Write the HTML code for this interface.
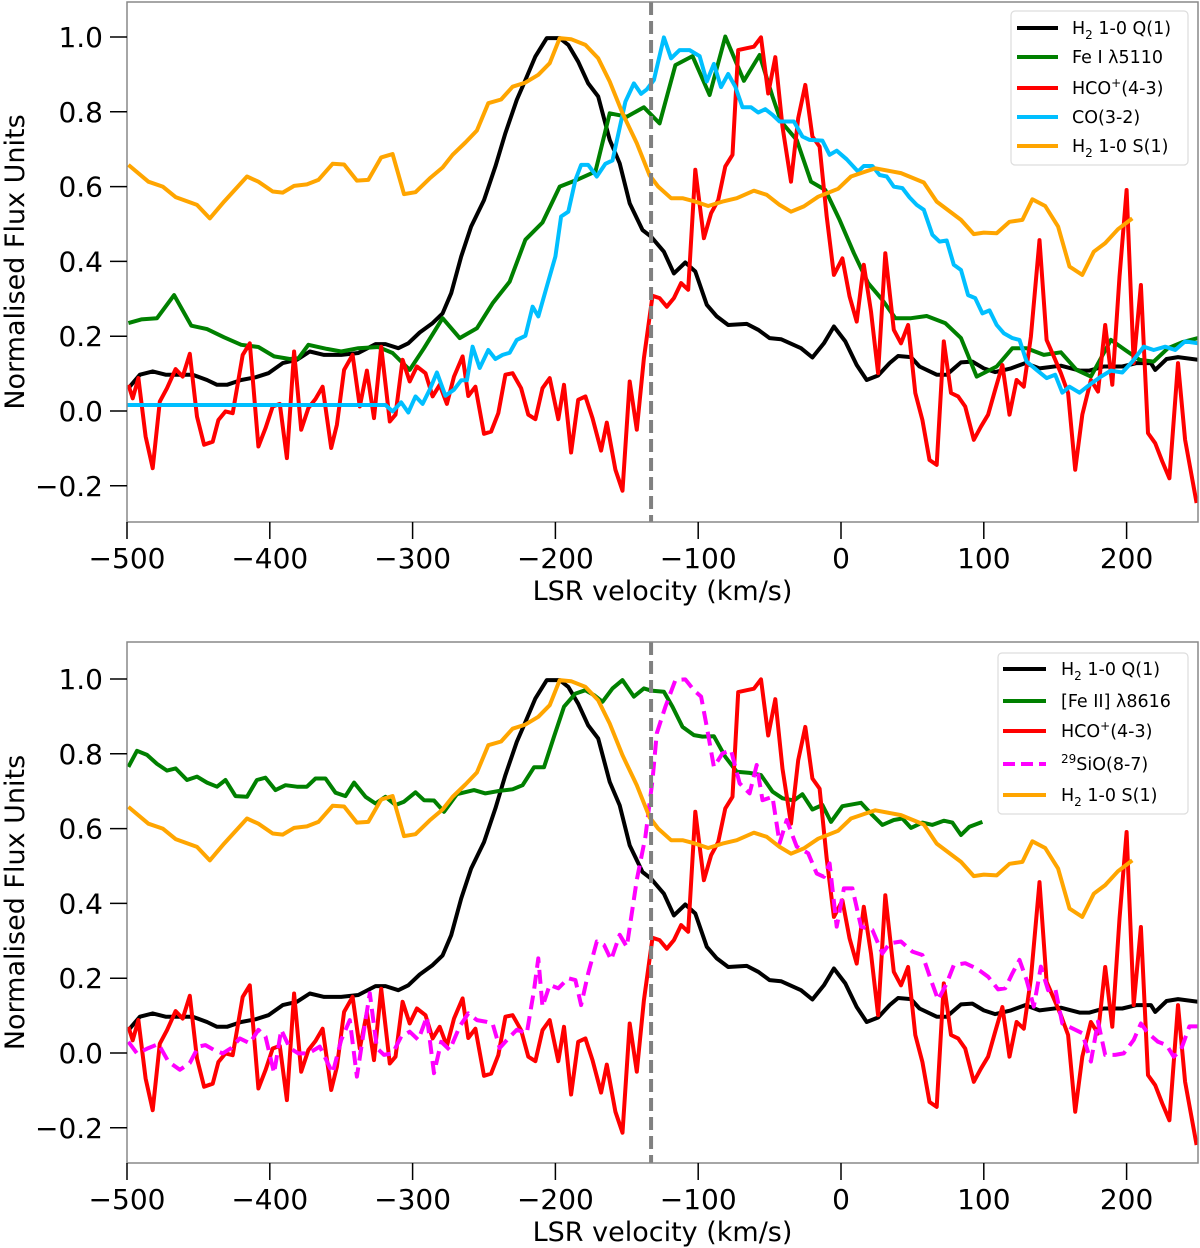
<!DOCTYPE html>
<html><head><meta charset="utf-8"><style>
html,body{margin:0;padding:0;background:#fff;}
svg{display:block;font-family:"DejaVu Sans","Liberation Sans",sans-serif;}
</style></head><body>
<svg id="fig" width="1200" height="1248" viewBox="0 0 1200 1248" xmlns="http://www.w3.org/2000/svg"></svg>
<script>
// ---------- data (velocity km/s, normalised flux) ----------
const h2q1V=[-499,-491,-482,-473,-463,-454,-444,-437,-430,-420,-410,-401,-391,-381,-372,-362,-350,-338,-326,-319,-310,-303,-295,-286,-279,-273,-266,-259,-250,-242,-235,-227,-221,-214,-206,-197,-191,-184,-177,-170,-162,-155,-148,-139,-133,-124,-117,-109,-102,-94,-87,-79,-66,-58,-50,-42,-28,-20,-12,-5,3,11,18,26,34,40,49,55,67,74,84,92,100,108,119,129,139,154,167,174,184,197,207,217,220,228,236,250];
const h2q1Y=[0.061,0.097,0.106,0.097,0.097,0.097,0.083,0.070,0.070,0.083,0.090,0.101,0.128,0.137,0.159,0.150,0.150,0.155,0.179,0.179,0.168,0.181,0.210,0.235,0.261,0.315,0.413,0.493,0.564,0.654,0.743,0.832,0.885,0.948,0.997,0.997,0.979,0.934,0.876,0.841,0.725,0.662,0.555,0.484,0.466,0.426,0.368,0.397,0.373,0.284,0.253,0.230,0.233,0.217,0.195,0.192,0.168,0.143,0.181,0.226,0.186,0.123,0.083,0.095,0.128,0.147,0.144,0.119,0.097,0.097,0.130,0.132,0.114,0.104,0.114,0.128,0.114,0.121,0.108,0.108,0.119,0.119,0.128,0.128,0.110,0.139,0.144,0.137];

const h2s1V=[-499,-485,-475,-466,-451,-442,-432,-416,-408,-398,-391,-383,-374,-366,-356,-348,-339,-331,-322,-314,-306,-298,-288,-279,-272,-263,-255,-247,-238,-230,-221,-212,-204,-197,-189,-179,-170,-162,-153,-143,-134,-128,-119,-111,-102,-93,-83,-73,-61,-52,-43,-35,-26,-16,-2,7,17,24,42,58,67,84,93,100,109,118,127,134,143,152,160,169,177,185,194,204];
const h2s1Y=[0.658,0.613,0.600,0.572,0.551,0.515,0.560,0.627,0.613,0.587,0.584,0.602,0.606,0.618,0.661,0.659,0.616,0.618,0.678,0.687,0.580,0.585,0.622,0.651,0.685,0.718,0.750,0.823,0.833,0.867,0.878,0.899,0.930,0.997,0.994,0.979,0.943,0.881,0.796,0.716,0.630,0.600,0.569,0.569,0.560,0.548,0.560,0.569,0.589,0.578,0.551,0.533,0.547,0.573,0.594,0.627,0.640,0.649,0.636,0.611,0.560,0.511,0.473,0.477,0.475,0.506,0.511,0.566,0.548,0.493,0.386,0.364,0.426,0.449,0.486,0.515];

const hcoV=[-499,-496,-492,-487,-482,-477,-472,-466,-461,-456,-451,-446,-440,-436,-431,-426,-419,-414,-408,-403,-398,-393,-388,-383,-378,-373,-368,-363,-357,-353,-348,-342,-337,-332,-327,-322,-316,-312,-307,-302,-297,-291,-286,-281,-276,-271,-265,-261,-256,-250,-245,-240,-235,-230,-224,-219,-214,-209,-204,-198,-194,-189,-184,-179,-174,-168,-164,-158,-153,-148,-143,-138,-132,-127,-122,-117,-112,-107,-102,-96,-91,-86,-81,-76,-72,-66,-61,-56,-51,-46,-41,-35,-30,-25,-20,-15,-10,-5,1,6,11,16,21,26,31,37,42,47,52,57,62,67,72,77,82,87,93,98,103,108,113,118,123,128,133,139,144,149,154,159,164,169,175,180,185,190,195,200,205,210,215,220,225,230,236,241,249];
const hcoY=[0.070,0.034,0.088,-0.068,-0.153,0.025,0.061,0.112,0.092,0.153,-0.015,-0.090,-0.082,-0.024,-0.001,-0.006,0.150,0.181,-0.095,-0.046,0.012,0.019,-0.126,0.159,-0.050,0.008,0.032,0.065,-0.099,-0.037,0.110,0.150,0.012,0.108,-0.019,0.172,-0.028,-0.010,0.137,0.079,0.119,0.101,0.039,0.070,0.019,0.092,0.146,0.040,0.065,-0.061,-0.055,-0.006,0.097,0.101,0.061,-0.010,-0.022,0.061,0.088,-0.022,0.070,-0.111,0.030,0.039,-0.019,-0.106,-0.031,-0.157,-0.213,0.079,-0.050,0.141,0.308,0.302,0.279,0.302,0.342,0.324,0.645,0.462,0.529,0.564,0.654,0.685,0.965,0.970,0.974,0.999,0.849,0.946,0.760,0.613,0.783,0.872,0.734,0.707,0.520,0.364,0.408,0.306,0.239,0.391,0.266,0.101,0.422,0.217,0.181,0.230,0.048,-0.024,-0.131,-0.144,0.186,0.048,0.039,0.012,-0.077,-0.042,-0.010,0.057,0.123,-0.010,0.083,0.065,0.199,0.457,0.190,0.146,0.101,0.048,-0.157,-0.010,0.083,0.052,0.230,0.070,0.359,0.591,0.128,0.337,-0.059,-0.086,-0.135,-0.180,0.128,-0.077,-0.246];

const fe1V=[-499,-490,-479,-467,-455,-444,-432,-420,-408,-397,-386,-380,-373,-360,-350,-338,-324,-314,-302,-292,-279,-267,-255,-244,-232,-221,-209,-197,-185,-172,-162,-150,-138,-127,-116,-104,-92,-81,-68,-57,-48,-42,-31,-21,-11,-1,9,19,29,38,49,60,73,84,95,109,120,130,142,154,165,175,189,199,209,219,229,239,250];
const fe1Y=[0.235,0.245,0.248,0.310,0.228,0.219,0.197,0.177,0.171,0.146,0.139,0.141,0.177,0.166,0.159,0.168,0.171,0.155,0.110,0.168,0.248,0.195,0.221,0.288,0.346,0.458,0.504,0.600,0.618,0.640,0.796,0.787,0.812,0.769,0.925,0.949,0.845,1.001,0.883,0.952,0.841,0.774,0.725,0.613,0.591,0.511,0.422,0.342,0.297,0.248,0.248,0.254,0.235,0.195,0.092,0.119,0.168,0.168,0.150,0.157,0.110,0.092,0.190,0.163,0.137,0.132,0.168,0.184,0.195];

const coV=[-500,-319,-314,-308,-303,-298,-293,-288,-283,-277,-271,-266,-262,-258,-253,-247,-242,-237,-232,-227,-221,-216,-212,-206,-200,-196,-191,-186,-182,-177,-171,-165,-160,-151,-145,-140,-136,-131,-124,-119,-113,-106,-99,-94,-89,-84,-79,-74,-69,-63,-58,-53,-48,-43,-33,-27,-22,-13,-8,-3,4,12,16,22,27,32,37,43,48,53,58,64,69,74,79,84,89,94,99,104,109,114,120,125,130,137,144,150,155,160,167,174,182,189,197,204,212,219,227,234,241,250];
const coY=[0.016,0.016,-0.001,0.023,-0.004,0.039,0.019,0.057,0.103,0.041,0.057,0.082,0.082,0.172,0.115,0.163,0.139,0.150,0.156,0.190,0.201,0.279,0.253,0.333,0.413,0.520,0.533,0.618,0.658,0.658,0.627,0.661,0.670,0.827,0.876,0.848,0.860,0.885,0.999,0.943,0.965,0.965,0.949,0.881,0.928,0.866,0.901,0.867,0.812,0.812,0.798,0.807,0.792,0.774,0.774,0.734,0.725,0.723,0.685,0.696,0.673,0.640,0.655,0.655,0.631,0.627,0.600,0.596,0.571,0.551,0.538,0.471,0.453,0.456,0.391,0.377,0.310,0.302,0.261,0.269,0.230,0.208,0.195,0.190,0.132,0.110,0.088,0.097,0.049,0.065,0.049,0.070,0.092,0.108,0.103,0.132,0.172,0.163,0.172,0.163,0.186,0.181];

const fe2V=[-499,-493,-486,-479,-472,-466,-458,-451,-444,-437,-431,-424,-416,-409,-403,-396,-389,-381,-374,-368,-361,-354,-347,-341,-333,-326,-319,-312,-306,-298,-292,-285,-278,-269,-257,-249,-239,-230,-223,-215,-208,-201,-194,-186,-179,-173,-167,-160,-153,-145,-138,-133,-124,-118,-111,-103,-97,-89,-81,-73,-64,-56,-48,-41,-33,-27,-20,-13,-7,1,14,22,29,37,43,49,57,64,72,78,84,90,99];
const fe2Y=[0.765,0.808,0.797,0.773,0.755,0.761,0.730,0.739,0.723,0.712,0.730,0.687,0.685,0.730,0.736,0.703,0.716,0.712,0.712,0.734,0.734,0.696,0.687,0.723,0.685,0.667,0.685,0.663,0.672,0.697,0.676,0.675,0.645,0.692,0.703,0.694,0.701,0.705,0.716,0.764,0.764,0.846,0.926,0.961,0.970,0.957,0.939,0.975,0.997,0.953,0.975,0.969,0.966,0.926,0.872,0.850,0.846,0.847,0.792,0.752,0.749,0.743,0.699,0.681,0.675,0.692,0.651,0.663,0.618,0.660,0.669,0.636,0.610,0.623,0.627,0.602,0.616,0.610,0.621,0.616,0.583,0.605,0.618];

const sioV=[-499,-493,-485,-478,-471,-463,-456,-450,-445,-439,-433,-427,-421,-414,-408,-403,-397,-392,-386,-380,-373,-365,-356,-350,-344,-339,-334,-330,-325,-320,-314,-308,-302,-296,-290,-285,-280,-274,-267,-261,-255,-249,-244,-239,-233,-227,-220,-215,-212,-209,-204,-198,-191,-186,-182,-177,-171,-166,-161,-155,-150,-143,-137,-132,-129,-123,-116,-109,-103,-98,-94,-89,-83,-77,-71,-64,-59,-55,-48,-43,-38,-31,-23,-17,-12,-8,-3,2,8,14,22,29,34,42,50,57,63,68,74,79,87,95,103,110,115,120,125,130,135,140,145,150,155,162,169,175,180,185,192,198,205,210,215,222,228,233,238,244,250];
const sioY=[0.030,-0.001,0.013,0.024,-0.023,-0.045,-0.027,0.017,0.021,0.008,-0.001,0.013,0.039,0.026,0.062,0.044,-0.054,0.062,0.013,-0.001,-0.001,0.017,-0.054,0.035,0.088,-0.063,0.062,0.160,0.013,-0.005,-0.001,0.044,0.057,0.035,0.097,-0.054,0.030,0.008,0.071,0.106,0.088,0.084,0.079,0.013,0.039,0.062,0.053,0.168,0.253,0.124,0.182,0.173,0.200,0.195,0.128,0.213,0.298,0.289,0.249,0.316,0.284,0.463,0.578,0.730,0.855,0.926,0.997,0.999,0.970,0.953,0.872,0.765,0.801,0.810,0.721,0.694,0.770,0.676,0.685,0.561,0.623,0.552,0.534,0.480,0.471,0.507,0.338,0.440,0.440,0.338,0.329,0.266,0.293,0.298,0.271,0.262,0.195,0.142,0.186,0.235,0.240,0.226,0.204,0.170,0.173,0.213,0.249,0.195,0.124,0.231,0.168,0.173,0.079,0.066,0.053,-0.023,0.084,-0.005,-0.005,-0.001,0.035,0.079,0.053,0.030,0.021,-0.010,0.008,0.071,0.071];

const xTicks=[-500,-400,-300,-200,-100,0,100,200];
const xTickLabels=["\u2212500","\u2212400","\u2212300","\u2212200","\u2212100","0","100","200"];
const yTicks=[-0.2,0,0.2,0.4,0.6,0.8,1.0];
const yTickLabels=["\u22120.2","0.0","0.2","0.4","0.6","0.8","1.0"];
const refVelocity=-133;

// ---------- drawing ----------
const NS="http://www.w3.org/2000/svg";
const fig=document.getElementById('fig');
function mk(tag,attrs,parent){const e=document.createElementNS(NS,tag);for(const k in attrs)e.setAttribute(k,attrs[k]);(parent||fig).appendChild(e);return e;}

function panel(cfg){
  const L=127,R=1198,T=cfg.top,B=cfg.bottom;
  const y1px=cfg.y1px,y0px=cfg.y0px;
  const sx=v=>L+(v+500)*(R-L)/750;
  const sy=y=>y0px+(y1px-y0px)*y;
  const g=mk('g',{});
  
  
  const clipId='clip'+cfg.name;
  const cp=mk('clipPath',{id:clipId},g);
  mk('rect',{x:L,y:T,width:R-L,height:B-T},cp);
  const series=mk('g',{'clip-path':'url(#'+clipId+')'},g);
  
  
  cfg.series.forEach(s=>{
    const pts=s.v.map((v,i)=>sx(v).toFixed(1)+','+sy(s.y[i]).toFixed(1)).join(' ');
    const pl=mk('polyline',{points:pts,fill:'none',stroke:s.color,'stroke-width':4,'stroke-linejoin':'round'},series);
    if(s.dash)pl.setAttribute('stroke-dasharray',s.dash);
    
    
  });
  const ref=mk('line',{x1:sx(refVelocity),x2:sx(refVelocity),y1:T,y2:B,stroke:'#808080','stroke-width':4,'stroke-dasharray':'13,6'},series);
  
  
  const fr=mk('rect',{x:L,y:T,width:R-L,height:B-T,fill:'none',stroke:'#888','stroke-width':1.5},g);
  
  
  xTicks.forEach((t,i)=>{
    const x=sx(t);
    const tk=mk('line',{x1:x,x2:x,y1:B,y2:B+17,stroke:'#000','stroke-width':1.5},g);
    
    
    const tx=mk('text',{x:x,y:B+46,'text-anchor':'middle','font-size':28,fill:'#000'},g);
    tx.textContent=xTickLabels[i];
    
    
  });
  yTicks.forEach((t,i)=>{
    const y=sy(t);
    const tk=mk('line',{x1:L-17,x2:L,y1:y,y2:y,stroke:'#000','stroke-width':1.5},g);
    
    
    const tx=mk('text',{x:L-24,y:y+10,'text-anchor':'end','font-size':28,fill:'#000'},g);
    tx.textContent=yTickLabels[i];
    
    
  });
  const xt=mk('text',{x:(L+R)/2,y:B+78,'text-anchor':'middle','font-size':27,fill:'#000'},g);
  xt.textContent='LSR velocity (km/s)';
  
  
  const cy=(T+B)/2;
  const yt=mk('text',{x:0,y:0,'text-anchor':'middle','font-size':27,fill:'#000',transform:'translate(24,'+cy+') rotate(-90)'},g);
  yt.textContent='Normalised Flux Units';
  
  
  // legend
  const lg=cfg.legend;
  const lgG=mk('g',{},g);
  
  
  mk('rect',{x:lg.x,y:lg.y,width:lg.w,height:lg.h,rx:4,fill:'#fff',stroke:'#ddd','stroke-width':1.2},lgG);
  cfg.series.forEach((s,i)=>{
    const ey=lg.rows[i];
    const ent=mk('g',{},lgG);
    
    
    const ln=mk('line',{x1:lg.lx1,x2:lg.lx2,y1:ey,y2:ey,stroke:s.color,'stroke-width':4},ent);
    if(s.dash)ln.setAttribute('stroke-dasharray','12,6');
    const tx=mk('text',{x:lg.tx,y:ey+6,'font-size':17.5,fill:'#000'},ent);
    tx.innerHTML=s.label;
  });
}

const sub='<tspan dy="5" font-size="12">2</tspan><tspan dy="-5"> </tspan>';
panel({name:'top-panel',top:2,bottom:522,y1px:37,y0px:411,
  series:[
    {id:'h2-q1',v:h2q1V,y:h2q1Y,color:'#000000',label:'H'+sub+'1-0 Q(1)'},
    {id:'fe-i',v:fe1V,y:fe1Y,color:'#008000',label:'Fe I \u03bb5110'},
    {id:'hco',v:hcoV,y:hcoY,color:'#ff0000',label:'HCO<tspan dy="-7" font-size="12">+</tspan><tspan dy="7">(4-3)</tspan>'},
    {id:'co',v:coV,y:coY,color:'#00bfff',label:'CO(3-2)'},
    {id:'h2-s1',v:h2s1V,y:h2s1Y,color:'#ffa500',label:'H'+sub+'1-0 S(1)'}
  ],
  legend:{x:1011,y:11,w:177,h:154,rows:[28,57,88,117,146],lx1:1017,lx2:1058,tx:1072}
});
panel({name:'bottom-panel',top:642,bottom:1163,y1px:679,y0px:1053,
  series:[
    {id:'h2-q1',v:h2q1V,y:h2q1Y,color:'#000000',label:'H'+sub+'1-0 Q(1)'},
    {id:'fe-ii',v:fe2V,y:fe2Y,color:'#008000',label:'[Fe II] \u03bb8616'},
    {id:'hco',v:hcoV,y:hcoY,color:'#ff0000',label:'HCO<tspan dy="-7" font-size="12">+</tspan><tspan dy="7">(4-3)</tspan>'},
    {id:'sio',v:sioV,y:sioY,color:'#ff00ff',dash:'14,7',label:'<tspan dy="-7" font-size="12">29</tspan><tspan dy="7">SiO(8-7)</tspan>'},
    {id:'h2-s1',v:h2s1V,y:h2s1Y,color:'#ffa500',label:'H'+sub+'1-0 S(1)'}
  ],
  legend:{x:998,y:653,w:190,h:161,rows:[669,701,731,764,795],lx1:1003,lx2:1046,tx:1061}
});
</script>
</body></html>
